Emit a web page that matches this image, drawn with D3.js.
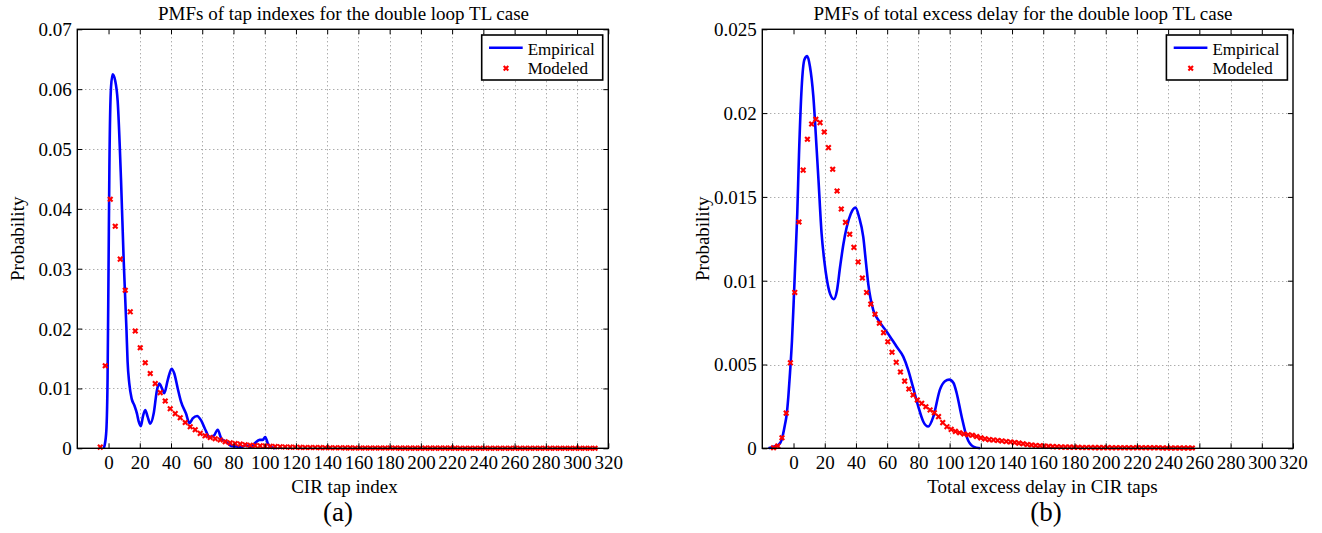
<!DOCTYPE html>
<html><head><meta charset="utf-8">
<script src="https://cdn.jsdelivr.net/npm/d3@7"></script>
<style>
body{margin:0;background:#fff}
svg{display:block}
text{font-family:'Liberation Serif','Times New Roman',Times,serif;fill:#000}
</style>
</head><body>
<svg id="c" width="1322" height="533"></svg>
<script>
// ---------------- data ----------------
const xTicks = [0,20,40,60,80,100,120,140,160,180,200,220,240,260,280,300,320];
const xTickLabels = ["0","20","40","60","80","100","120","140","160","180","200","220","240","260","280","300","320"];
const yTicksA = [0,0.01,0.02,0.03,0.04,0.05,0.06,0.07];
const yTickLabelsA = ["0","0.01","0.02","0.03","0.04","0.05","0.06","0.07"];
const yTicksB = [0,0.005,0.01,0.015,0.02,0.025];
const yTickLabelsB = ["0","0.005","0.01","0.015","0.02","0.025"];

// (a) empirical PMF of tap index
const empA_x = [-3.2,-2.5,-1.4,-0.6,0,0.55,1.6,2.65,4.2,5.85,8.0,9.7,11.5,12.2,13.3,14.8,16.5,18.2,19.3,20.7,22,23.5,25,26.7,28.9,31,32.5,34.2,35.7,37.9,40.4,42.1,44.3,46.4,49.6,51.8,53.9,56.7,59.2,62,64.6,67.4,69.9,72.1,75.3,78.5,81.7,84.9,88,91,93.5,96.7,98.8,100.3,102,104.2,107];
const empA_y = [0,0.0005,0.003,0.012,0.030,0.047,0.0604,0.0625,0.0615,0.058,0.0448,0.0314,0.0197,0.0145,0.0108,0.0083,0.0072,0.0058,0.0045,0.0037,0.0053,0.0064,0.0053,0.0041,0.0058,0.0097,0.0108,0.0100,0.0092,0.0114,0.0133,0.0125,0.0100,0.0078,0.0058,0.0042,0.0050,0.0054,0.0047,0.0031,0.0019,0.0021,0.0031,0.0017,0.0011,0.0004,0.0003,0.0002,0.0005,0.0002,0.0008,0.0014,0.0014,0.0019,0.0008,0.0002,0];

// (a) modeled PMF of tap index
const modA_x = [-5.3,-2.1,1.1,4.3,7.5,10.7,13.9,17.1,20.3,23.5,26.7,29.9,33.1,36.3,39.5,42.7,45.9,49.1,52.3,55.5,58.7,61.9,65.1,68.3,71.5,74.7,77.9,81.1,84.3,87.5,90.7,93.9,97.1,100.3,103.5,106.7,109.9,113.1,116.3,119.5,122.7,125.9,129.1,132.3,135.5,138.7,141.9,145.1,148.3,151.5,154.7,157.9,161.1,164.3,167.5,170.7,173.9,177.1,180.3,183.5,186.7,189.9,193.1,196.3,199.5,202.7,205.9,209.1,212.3,215.5,218.7,221.9,225.1,228.3,231.5,234.7,237.9,241.1,244.3,247.5,250.7,253.9,257.1,260.3,263.5,266.7,269.9,273.1,276.3,279.5,282.7,285.9,289.1,292.3,295.5,298.7,301.9,305.1,308.3,311.5];
const modA_y = [0.0002,0.0138,0.0416,0.0371,0.0316,0.0264,0.0228,0.0196,0.0168,0.0143,
0.0125,0.0108,0.0093,0.0079,0.0066,0.0058,0.0051,0.0043,0.0036,0.0031,
0.0025,0.0021,0.0018,0.0016,0.0014,0.0011,0.0009,0.0008,0.0007,0.0006,
0.0005,0.00045,0.0004,0.00036,0.00032,0.00028,0.00025,0.00022,0.0002,0.00018,
0.00016,0.00014,0.00013,0.00012,0.00011,0.0001,0.00009,0.00008,0.00008,0.00007,
0.00007,0.00006,0.00006,0.00005,0.00005,0.00005,0.00004,0.00004,0.00004,0.00004,
0.00003,0.00003,0.00003,0.00003,0.00003,0.00003,0.00003,0.00003,0.00003,0.00003,
0.00003,0.00003,0.00002,0.00002,0.00002,0.00002,0.00002,0.00002,0.00002,0.00002,
0.00002,0.00002,0.00002,0.00002,0.00002,0.00002,0.00002,0.00002,0.00002,0.00002,
0.00002,0.00002,0.00001,0.00001,0.00001,0.00001,0.00001,0.00001,0.00001,0.00001];

// (b) empirical PMF of total excess delay
const empB_x = [-16,-13,-9.7,-7.6,-5.5,-4.4,-3.3,-2.25,-1,0,1,2.4,3.5,5.2,7,8.8,10.5,12.7,14.85,16,18,19.7,21.5,23.5,25.9,27.8,29.8,32,34.1,36.7,39.7,42,44.7,46.5,47.9,51.1,54.3,59.7,66.1,70.3,73.5,76.7,79.9,83.1,86.3,89.6,93.8,97,99.8,102.5,104.5,107.7,110.9,115.2,119.5];
const empB_y = [0,0.0001,0.0002,0.0005,0.0014,0.0020,0.0031,0.0045,0.0064,0.0085,0.0108,0.0140,0.0175,0.0215,0.0232,0.0234,0.0228,0.0210,0.0178,0.0160,0.0128,0.0112,0.0100,0.0092,0.0089,0.0094,0.0108,0.0122,0.0132,0.0140,0.01436,0.0138,0.0126,0.0110,0.0098,0.00825,0.00766,0.00696,0.00606,0.00547,0.00467,0.0036,0.0025,0.0016,0.0013,0.0019,0.0035,0.0040,0.0041,0.0039,0.0033,0.0019,0.0007,0.0001,0];

// (b) modeled PMF of total excess delay
const modB_x = [-12.8,-10.1,-7.4,-4.7,-2.0,0.8,3.5,6.2,8.9,11.6,14.3,17.0,19.7,22.4,25.1,27.9,30.6,33.3,36.0,38.7,41.4,44.1,46.8,49.5,52.2,55.0,57.7,60.4,63.1,65.8,68.5,71.2,73.9,76.6,79.3,82.1,84.8,87.5,90.2,92.9,95.6,98.3,101.0,103.7,106.4,109.2,111.9,114.6,117.3,120.0,122.7,125.4,128.1,130.8,133.5,136.3,139.0,141.7,144.4,147.1,149.8,152.5,155.2,157.9,160.6,163.4,166.1,168.8,171.5,174.2,176.9,179.6,182.3,185.0,187.7,190.5,193.2,195.9,198.6,201.3,204.0,206.7,209.4,212.1,214.8,217.6,220.3,223.0,225.7,228.4,231.1,233.8,236.5,239.2,241.9,244.7,247.4,250.1,252.8,255.5];
const modB_y = [0.00003,0.00014,0.00063,0.0021,0.0051,0.0093,0.0135,0.0166,0.01844,0.01935,
0.01963,0.01943,0.01887,0.01794,0.01665,0.01535,0.01428,0.01348,0.01277,0.01199,
0.01112,0.01016,0.0093,0.0086,0.0080,0.00746,0.0069,0.00636,0.00573,0.00513,
0.00455,0.00401,0.00354,0.00318,0.00288,0.00268,0.00248,0.00229,0.00212,0.00189,
0.00153,0.00129,0.00113,0.00101,0.00093,0.00085,0.00081,0.00078,0.0007,0.00062,
0.00056,0.00052,0.0005,0.00047,0.00044,0.00041,0.00038,0.00035,0.00031,0.00027,
0.00023,0.0002,0.00017,0.00015,0.00013,0.00012,0.0001,0.00009,0.00008,0.00007,
0.00007,0.00006,0.00006,0.00005,0.00005,0.00005,0.00004,0.00004,0.00004,0.00004,
0.00003,0.00003,0.00003,0.00003,0.00003,0.00003,0.00003,0.00003,0.00003,0.00003,
0.00003,0.00003,0.00002,0.00002,0.00002,0.00002,0.00002,0.00002,0.00002,0.00002];

// ---------------- drawing ----------------
const svg = d3.select("#c");
const TOP = 29.3, BOTTOM = 448.3;
const FS = 19;

function panel(o){
  const x = d3.scaleLinear([-20,320],[o.left,o.right]);
  const y = d3.scaleLinear([0,o.ymax],[BOTTOM,TOP]);
  const g = svg.append("g");
  const px = v => Math.round(x(v)) + 0.5;
  const py = v => Math.round(y(v)) + 0.5;

  // title
  g.append("text").attr("x",o.titleX).attr("y",19.6).attr("text-anchor","middle")
    .style("font-size",FS+"px").text(o.title);

  // grid
  const grid = g.append("g").attr("stroke","#8a8a8a").attr("stroke-width",1).attr("stroke-dasharray","1,3");
  grid.selectAll(".gx").data(xTicks.filter(d=>d>0 && d<320)).join("line")
    .attr("x1",px).attr("x2",px).attr("y1",TOP).attr("y2",BOTTOM);
  grid.selectAll(".gy").data(o.yTicks.filter(d=>d>0 && d<o.ymax)).join("line")
    .attr("y1",py).attr("y2",py).attr("x1",o.left).attr("x2",o.right);

  // empirical line
  const line = d3.line().x(d=>x(d[0])).y(d=>y(d[1])).curve(d3.curveMonotoneX);
  g.append("path").datum(d3.zip(o.ex,o.ey)).attr("d",line)
    .attr("fill","none").attr("stroke","#0000ff").attr("stroke-width",2.6)
    .attr("stroke-linejoin","round");

  // modeled markers
  g.append("g").selectAll("path").data(d3.zip(o.mx,o.my)).join("path")
    .attr("transform",d=>`translate(${x(d[0])},${y(d[1])})`)
    .attr("d","M-2.3,-2.3L2.3,2.3M-2.3,2.3L2.3,-2.3")
    .attr("stroke","#ff0000").attr("stroke-width",2.1).attr("fill","none");

  // axes (ticks inside)
  const axB = d3.axisBottom(x).tickValues(xTicks).tickSize(-5).tickFormat((d,i)=>xTickLabels[i]);
  const gB = g.append("g").attr("transform",`translate(0,${BOTTOM})`).call(axB);
  gB.selectAll("text").attr("y",20.3).attr("dy",null).style("font-size",FS+"px")
    .style("font-family","'Liberation Serif','Times New Roman',serif");
  const axT = d3.axisTop(x).tickValues(xTicks).tickSize(-5).tickFormat("");
  g.append("g").attr("transform",`translate(0,${TOP})`).call(axT);
  const axL = d3.axisLeft(y).tickValues(o.yTicks).tickSize(-5).tickFormat((d,i)=>o.yLabels[i]);
  const gL = g.append("g").attr("transform",`translate(${o.left},0)`).call(axL);
  gL.selectAll("text").attr("x",-5.5).attr("dy","0.34em").style("font-size",FS+"px")
    .style("font-family","'Liberation Serif','Times New Roman',serif");
  const axR = d3.axisRight(y).tickValues(o.yTicks).tickSize(-5).tickFormat("");
  g.append("g").attr("transform",`translate(${o.right},0)`).call(axR);
  g.selectAll(".domain").remove();
  g.selectAll(".tick line").attr("stroke","#000").attr("stroke-width",1);

  // box
  g.append("rect").attr("x",o.left).attr("y",TOP).attr("width",o.right-o.left).attr("height",BOTTOM-TOP)
    .attr("fill","none").attr("stroke","#000").attr("stroke-width",1.4);

  // axis labels
  g.append("text").attr("transform",`translate(${o.left-53.8},${(TOP+BOTTOM)/2}) rotate(-90)`)
    .attr("text-anchor","middle").style("font-size",FS+"px").text("Probability");
  g.append("text").attr("x",o.xlabelX).attr("y",493.3).attr("text-anchor","middle")
    .style("font-size",FS+"px").text(o.xlabel);
  g.append("text").attr("x",o.subX).attr("y",521).attr("text-anchor","middle")
    .style("font-size","27px").text(o.sub);

  // legend
  const lx = o.right - 126.6, ly = 35;
  const lg = g.append("g");
  lg.append("rect").attr("x",lx).attr("y",ly).attr("width",121).attr("height",45)
    .attr("fill","#fff").attr("stroke","#000").attr("stroke-width",1.6);
  lg.append("line").attr("x1",lx+7.3).attr("x2",lx+41).attr("y1",ly+12.7).attr("y2",ly+12.7)
    .attr("stroke","#0000ff").attr("stroke-width",2.6);
  lg.append("path").attr("transform",`translate(${lx+24.3},${ly+33.3})`)
    .attr("d","M-2.3,-2.3L2.3,2.3M-2.3,2.3L2.3,-2.3")
    .attr("stroke","#ff0000").attr("stroke-width",2.1);
  lg.append("text").attr("x",lx+46).attr("y",ly+19.5).style("font-size","17px").text("Empirical");
  lg.append("text").attr("x",lx+46).attr("y",ly+39).style("font-size","17px").text("Modeled");
}

panel({left:77.3,right:608.3,ymax:0.07,yTicks:yTicksA,yLabels:yTickLabelsA,
  ex:empA_x,ey:empA_y,mx:modA_x,my:modA_y,
  title:"PMFs of tap indexes for the double loop TL case",titleX:343.5,
  xlabel:"CIR tap index",xlabelX:344.5,sub:"(a)",subX:338});
panel({left:762.3,right:1293,ymax:0.025,yTicks:yTicksB,yLabels:yTickLabelsB,
  ex:empB_x,ey:empB_y,mx:modB_x,my:modB_y,
  title:"PMFs of total excess delay for the double loop TL case",titleX:1023,
  xlabel:"Total excess delay in CIR taps",xlabelX:1042.5,sub:"(b)",subX:1046});
</script>
</body></html>
